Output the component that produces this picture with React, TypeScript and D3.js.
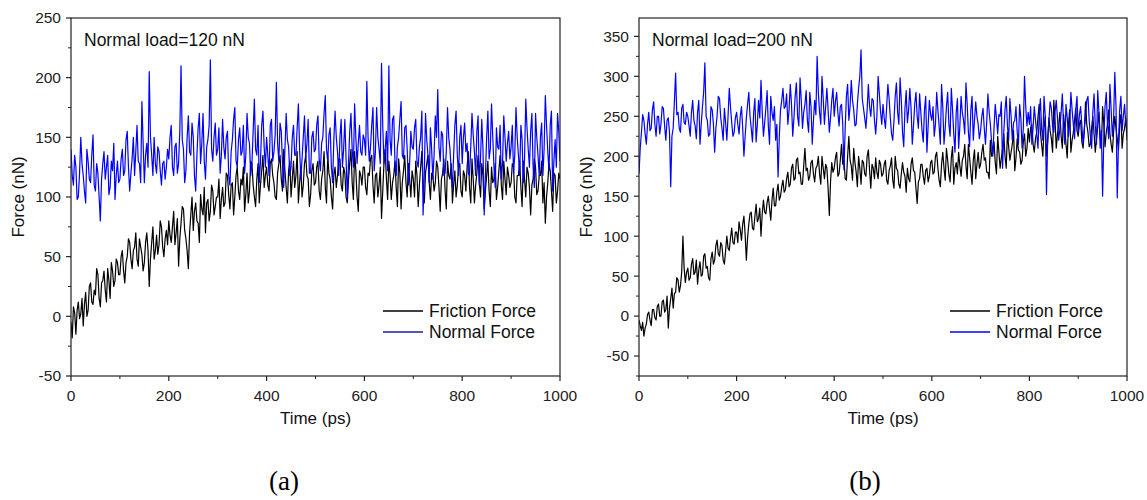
import React from 'react';
import * as d3 from 'd3';

// sampling grid (ps): 0, 2.5, 5, ... 1000
const timePs: number[] = d3.range(0, 401).map((i) => i * 2.5);

// Panel (a): normal load = 120 nN
const frictionA: number[] = [
  -5, -18, 8, 3, -15, 5, 12, -2, 2, 15, -8, 10, 20, 0, 5, 25, 28, 12, 10, 22, 18, 40, 35, 15, 8, 28, 30, 38, 22, 12, 40, 30, 15, 45, 38, 25, 30, 48, 45, 35,
  35, 50, 55, 38, 28, 45, 50, 65, 62, 48, 40, 55, 58, 70, 48, 42, 65, 58, 52, 38, 45, 62, 70, 55, 25, 48, 62, 75, 48, 55, 68, 52, 60, 80, 75, 58, 50, 65, 72, 60,
  80, 68, 62, 75, 88, 60, 70, 82, 42, 65, 78, 92, 90, 72, 65, 55, 40, 70, 85, 100, 72, 88, 95, 80, 78, 62, 102, 90, 85, 108, 70, 95, 98, 80, 88, 110, 105, 85, 92, 100,
  100, 115, 82, 98, 108, 92, 95, 120, 118, 102, 90, 110, 112, 85, 100, 118, 125, 105, 98, 115, 110, 125, 88, 102, 120, 95, 105, 130, 128, 110, 100, 92, 115, 128, 95, 110, 122, 135, 108, 118,
  125, 110, 105, 128, 132, 118, 112, 100, 98, 120, 128, 135, 115, 105, 140, 122, 108, 95, 122, 130, 100, 115, 130, 108, 118, 138, 95, 112, 125, 100, 110, 128, 135, 118, 115, 92, 102, 122, 128, 110,
  112, 125, 130, 105, 98, 115, 122, 138, 108, 95, 135, 120, 115, 100, 90, 118, 125, 108, 118, 132, 132, 110, 105, 125, 120, 100, 95, 115, 128, 140, 112, 98, 138, 122, 100, 88, 122, 118, 110, 125,
  125, 108, 102, 120, 118, 132, 135, 110, 95, 118, 120, 100, 110, 125, 82, 105, 128, 140, 115, 98, 130, 118, 98, 112, 118, 130, 108, 92, 132, 120, 90, 112, 122, 135, 112, 100, 128, 115, 100, 122,
  115, 100, 130, 118, 92, 110, 125, 138, 108, 95, 120, 128, 135, 112, 98, 120, 118, 105, 112, 130, 125, 108, 88, 115, 120, 132, 105, 90, 130, 118, 115, 128, 95, 110, 122, 100, 110, 125, 128, 105,
  100, 122, 118, 105, 125, 138, 108, 95, 132, 115, 95, 110, 120, 135, 112, 100, 128, 118, 90, 105, 118, 130, 105, 92, 125, 112, 115, 128, 98, 108, 122, 135, 110, 98, 130, 115, 102, 125, 118, 108,
  112, 128, 125, 100, 95, 118, 118, 130, 108, 92, 130, 115, 100, 125, 120, 108, 85, 110, 115, 132, 125, 102, 105, 118, 118, 130, 95, 112, 78, 100, 112, 128, 122, 105, 88, 120, 118, 95, 105, 120,
  115,
];
const normalA: number[] = [
  140, 118, 110, 135, 125, 98, 100, 120, 150, 128, 118, 105, 95, 140, 130, 115, 112, 135, 152, 110, 105, 128, 120, 100, 80, 115, 128, 138, 115, 125, 135, 102, 108, 130, 122, 145, 98, 118, 130, 112,
  115, 132, 140, 118, 122, 148, 155, 125, 105, 120, 132, 150, 118, 138, 160, 130, 128, 112, 180, 145, 112, 135, 145, 125, 205, 150, 135, 118, 150, 128, 120, 142, 138, 122, 110, 128, 130, 115, 125, 140,
  132, 150, 160, 125, 118, 142, 145, 120, 128, 155, 210, 148, 140, 112, 122, 150, 168, 138, 135, 162, 150, 118, 105, 135, 158, 170, 128, 145, 170, 130, 115, 142, 148, 160, 215, 140, 130, 150, 162, 135,
  140, 158, 120, 135, 165, 142, 132, 150, 155, 118, 110, 138, 148, 165, 175, 130, 125, 148, 158, 135, 138, 160, 120, 135, 170, 150, 145, 118, 128, 155, 182, 140, 135, 160, 112, 130, 160, 172, 142, 125,
  150, 135, 118, 160, 165, 130, 138, 152, 196, 145, 130, 162, 155, 128, 108, 140, 170, 148, 142, 118, 125, 150, 160, 135, 135, 158, 178, 140, 115, 132, 150, 168, 132, 145, 165, 120, 120, 150, 155, 138,
  140, 160, 168, 132, 122, 145, 150, 170, 185, 140, 130, 152, 158, 125, 112, 148, 172, 150, 138, 118, 150, 165, 125, 140, 165, 132, 100, 128, 155, 170, 140, 125, 178, 150, 128, 145, 160, 138, 135, 152,
  148, 135, 197, 150, 130, 142, 160, 175, 122, 138, 175, 150, 140, 128, 212, 160, 128, 140, 155, 122, 210, 148, 135, 165, 168, 130, 118, 142, 150, 165, 180, 135, 132, 158, 160, 140, 110, 128, 155, 142,
  140, 158, 165, 130, 125, 142, 150, 172, 85, 120, 170, 148, 135, 112, 158, 140, 115, 135, 168, 150, 190, 142, 130, 155, 152, 118, 120, 138, 175, 150, 140, 122, 108, 135, 160, 172, 135, 118, 150, 160,
  128, 150, 162, 138, 145, 120, 118, 142, 170, 152, 138, 118, 155, 168, 110, 132, 165, 140, 85, 118, 150, 172, 132, 140, 178, 150, 125, 108, 158, 142, 140, 160, 115, 128, 168, 150, 130, 145, 155, 132,
  142, 160, 120, 135, 175, 150, 135, 118, 160, 148, 112, 132, 182, 158, 140, 125, 155, 170, 125, 108, 170, 150, 135, 118, 150, 162, 118, 140, 185, 160, 138, 122, 160, 172, 105, 130, 148, 125, 170, 155,
  130,
];

// Panel (b): normal load = 200 nN
const frictionB: number[] = [
  -5, -12, -18, -8, -25, -15, -10, 2, 5, -5, -12, 8, 8, -2, -5, 12, 15, 0, 0, 18, 20, 5, 8, 25, -15, 10, 22, 35, 10, 28, 30, 48, 45, 30, 38, 55, 100, 60, 42, 55,
  60, 45, 48, 65, 72, 52, 55, 70, 40, 58, 68, 50, 52, 75, 78, 60, 62, 48, 45, 72, 80, 65, 70, 88, 95, 78, 75, 92, 88, 70, 65, 82, 100, 85, 82, 98, 110, 92, 90, 105,
  105, 92, 118, 108, 95, 115, 125, 102, 70, 98, 115, 128, 130, 110, 108, 125, 140, 118, 122, 135, 100, 128, 145, 130, 128, 142, 150, 135, 120, 145, 160, 138, 138, 155, 165, 145, 150, 162, 170, 155,
  158, 172, 180, 162, 165, 185, 190, 170, 172, 195, 198, 178, 180, 165, 165, 188, 210, 182, 185, 170, 175, 192, 195, 178, 168, 185, 188, 200, 178, 165, 200, 185, 172, 190, 185, 160, 126, 168, 192, 180,
  185, 198, 205, 175, 178, 195, 215, 190, 195, 172, 170, 200, 225, 195, 188, 170, 210, 192, 180, 162, 200, 185, 165, 195, 192, 178, 175, 200, 208, 182, 160, 190, 185, 172, 198, 180, 172, 195, 190, 175,
  178, 190, 195, 170, 165, 182, 188, 198, 170, 160, 200, 185, 182, 165, 160, 178, 192, 180, 175, 155, 185, 172, 168, 190, 198, 182, 180, 160, 141, 168, 172, 190, 190, 175, 165, 182, 185, 168, 175, 192,
  195, 178, 180, 200, 205, 185, 170, 162, 190, 205, 185, 170, 210, 195, 178, 168, 198, 212, 165, 185, 192, 178, 205, 188, 175, 195, 200, 215, 188, 172, 215, 198, 180, 165, 195, 208, 172, 190, 205, 185,
  190, 205, 215, 195, 198, 180, 180, 172, 220, 200, 205, 218, 192, 178, 225, 205, 185, 198, 210, 228, 200, 185, 230, 212, 195, 205, 215, 232, 182, 198, 222, 208, 205, 190, 195, 218, 228, 200, 210, 235,
  218, 235, 240, 215, 205, 222, 230, 248, 265, 230, 215, 200, 235, 250, 200, 218, 248, 232, 222, 205, 270, 245, 210, 228, 238, 255, 225, 210, 252, 235, 215, 198, 240, 258, 205, 220, 230, 245, 260, 232,
  225, 240, 245, 218, 210, 232, 268, 240, 230, 212, 215, 235, 250, 228, 205, 222, 238, 255, 225, 210, 262, 240, 212, 230, 240, 258, 228, 215, 205, 230, 250, 235, 222, 208, 240, 252, 210, 228, 235, 248,
  220,
];
const normalB: number[] = [
  178, 210, 230, 252, 245, 228, 215, 240, 255, 232, 235, 258, 268, 240, 225, 250, 250, 228, 240, 262, 260, 238, 220, 245, 248, 230, 162, 225, 235, 268, 304, 252, 255, 235, 230, 260, 265, 242, 240, 255,
  250, 238, 225, 255, 270, 245, 238, 222, 255, 270, 215, 240, 262, 280, 317, 250, 245, 225, 228, 262, 258, 240, 205, 235, 250, 275, 272, 248, 235, 220, 260, 242, 220, 250, 285, 262, 242, 225, 230, 248,
  255, 240, 228, 250, 262, 235, 200, 225, 248, 265, 280, 250, 235, 218, 255, 272, 218, 240, 270, 248, 295, 255, 225, 242, 260, 282, 238, 215, 275, 255, 245, 262, 220, 240, 174, 225, 258, 270, 285, 260,
  262, 278, 240, 258, 290, 265, 225, 248, 275, 292, 250, 238, 298, 270, 235, 255, 265, 282, 245, 230, 280, 262, 215, 245, 270, 252, 325, 280, 255, 240, 300, 272, 240, 262, 285, 258, 230, 248, 270, 285,
  250, 268, 280, 255, 238, 262, 265, 240, 183, 235, 275, 290, 245, 262, 295, 270, 258, 238, 240, 265, 285, 300, 333, 272, 260, 248, 235, 258, 290, 262, 250, 272, 270, 245, 228, 250, 300, 278, 255, 240,
  265, 248, 235, 262, 290, 272, 248, 228, 220, 245, 275, 292, 255, 240, 298, 270, 230, 212, 260, 282, 242, 258, 285, 260, 215, 238, 265, 280, 250, 235, 278, 255, 232, 218, 258, 275, 205, 238, 270, 252,
  245, 262, 225, 240, 280, 258, 238, 215, 290, 262, 215, 235, 262, 280, 240, 225, 285, 258, 228, 205, 255, 272, 210, 238, 275, 255, 245, 228, 292, 265, 230, 212, 258, 275, 220, 245, 268, 250, 240, 222,
  232, 250, 260, 235, 215, 242, 278, 255, 240, 218, 200, 235, 265, 248, 228, 252, 250, 268, 185, 230, 258, 275, 238, 220, 272, 250, 220, 242, 245, 262, 230, 215, 265, 248, 210, 235, 300, 262, 238, 255,
  240, 262, 215, 235, 262, 245, 228, 210, 250, 272, 235, 220, 275, 250, 152, 222, 245, 268, 260, 238, 230, 255, 270, 248, 220, 235, 255, 278, 238, 215, 265, 248, 225, 240, 280, 258, 240, 222, 258, 275,
  230, 252, 262, 238, 215, 235, 248, 270, 275, 245, 225, 210, 255, 278, 238, 215, 282, 255, 210, 232, 150, 225, 262, 280, 240, 222, 290, 258, 225, 245, 305, 262, 148, 215, 258, 275, 232, 250, 265, 240,
  245,
];

const xTicksMajor = [0, 200, 400, 600, 800, 1000];
const xTicksMinor = [100, 300, 500, 700, 900];
const yTicksA = [-50, 0, 50, 100, 150, 200, 250];
const yTicksB = [-50, 0, 50, 100, 150, 200, 250, 300, 350];

const SANS = "'Liberation Sans', Arial, sans-serif";
const SERIF = "'Liberation Serif', 'Times New Roman', serif";

type PanelProps = {
  left: number; right: number; top: number; bottom: number;
  yDomain: [number, number];
  yTicks: number[];
  friction: number[];
  normal: number[];
  loadLabel: string;
  legendX: number;
  normalLegendColor: string;
  panelLabel: string;
  panelLabelX: number;
};

function Panel(p: PanelProps) {
  const x = d3.scaleLinear().domain([0, 1000]).range([p.left, p.right]);
  const y = d3.scaleLinear().domain(p.yDomain).range([p.bottom, p.top]);
  const line = d3.line<number>().x((_, i) => x(timePs[i])).y((d) => y(d));
  const minorY: number[] = [];
  for (let i = 0; i < p.yTicks.length - 1; i++) minorY.push((p.yTicks[i] + p.yTicks[i + 1]) / 2);
  const extra = p.yTicks[0] - 25;
  if (extra >= p.yDomain[0]) minorY.push(extra);
  const lastExtra = p.yTicks[p.yTicks.length - 1] + 25;
  if (lastExtra <= p.yDomain[1]) minorY.push(lastExtra);
  const axisColor = '#222';
  const midX = (p.left + p.right) / 2;
  const midY = (p.top + p.bottom) / 2;
  return (
    <g>
      <defs>
        <clipPath id={'clip' + p.panelLabel}>
          <rect x={p.left} y={p.top} width={p.right - p.left} height={p.bottom - p.top} />
        </clipPath>
      </defs>
      <g clipPath={`url(#clip${p.panelLabel})`}>
        <path d={line(p.friction) || ''} fill="none" stroke="#000" strokeWidth={1.2} strokeLinejoin="round" />
        <path d={line(p.normal) || ''} fill="none" stroke="#0000ff" strokeWidth={1.2} strokeLinejoin="round" />
      </g>
      <rect x={p.left} y={p.top} width={p.right - p.left} height={p.bottom - p.top} fill="none" stroke={axisColor} strokeWidth={1.2} />
      {p.yTicks.map((t) => (
        <g key={'yt' + t}>
          <line x1={p.left - 5} x2={p.left} y1={y(t)} y2={y(t)} stroke={axisColor} strokeWidth={1.2} />
          <text x={p.left - 10} y={y(t)} dy="0.35em" textAnchor="end" fontFamily={SANS} fontSize={15.5} fill="#222">{t}</text>
        </g>
      ))}
      {minorY.map((t) => (
        <line key={'ym' + t} x1={p.left - 3} x2={p.left} y1={y(t)} y2={y(t)} stroke={axisColor} strokeWidth={1} />
      ))}
      {xTicksMajor.map((t) => (
        <g key={'xt' + t}>
          <line x1={x(t)} x2={x(t)} y1={p.bottom} y2={p.bottom + 5} stroke={axisColor} strokeWidth={1.2} />
          <text x={x(t)} y={p.bottom + 25} textAnchor="middle" fontFamily={SANS} fontSize={15.5} fill="#222">{t}</text>
        </g>
      ))}
      {xTicksMinor.map((t) => (
        <line key={'xm' + t} x1={x(t)} x2={x(t)} y1={p.bottom} y2={p.bottom + 3} stroke={axisColor} strokeWidth={1} />
      ))}
      <text x={midX} y={p.bottom + 48} textAnchor="middle" fontFamily={SANS} fontSize={17} fill="#111">Time (ps)</text>
      <text transform={`translate(${p.left - 47},${midY}) rotate(-90)`} textAnchor="middle" fontFamily={SANS} fontSize={17} fill="#111">Force (nN)</text>
      <text x={p.left + 13} y={46} fontFamily={SANS} fontSize={17.5} fill="#111">{p.loadLabel}</text>
      <line x1={p.legendX} x2={p.legendX + 40} y1={311} y2={311} stroke="#000" strokeWidth={1.5} />
      <text x={p.legendX + 46} y={317} fontFamily={SANS} fontSize={17.5} fill="#111">Friction Force</text>
      <line x1={p.legendX} x2={p.legendX + 40} y1={332} y2={332} stroke={p.normalLegendColor} strokeWidth={1.5} />
      <text x={p.legendX + 46} y={338} fontFamily={SANS} fontSize={17.5} fill="#111">Normal Force</text>
      <text x={p.panelLabelX} y={490} textAnchor="middle" fontFamily={SERIF} fontSize={27} fill="#000">({p.panelLabel})</text>
    </g>
  );
}

export default function App() {
  return (
    <svg width={1147} height={500} style={{ position: 'absolute', left: 0, top: 0, background: '#fff' }}>
      <rect x={0} y={0} width={1147} height={500} fill="#fff" />
      <Panel left={71} right={560} top={18} bottom={376} yDomain={[-50, 250]} yTicks={yTicksA}
        friction={frictionA} normal={normalA} loadLabel="Normal load=120 nN" legendX={383}
        normalLegendColor="#1a1aa0" panelLabel="a" panelLabelX={284} />
      <Panel left={639} right={1127} top={18} bottom={376} yDomain={[-75, 373]} yTicks={yTicksB}
        friction={frictionB} normal={normalB} loadLabel="Normal load=200 nN" legendX={950}
        normalLegendColor="#0000ff" panelLabel="b" panelLabelX={865} />
    </svg>
  );
}
